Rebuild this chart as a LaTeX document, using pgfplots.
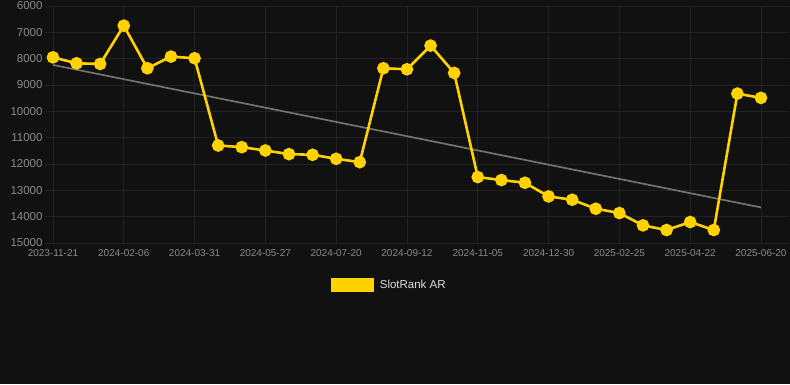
\documentclass[border=0pt]{standalone}
\usepackage{pgfplots}
\pgfplotsset{compat=1.18}
\usepackage{fontspec}
\setmainfont{Liberation Sans}
\definecolor{bg}{HTML}{111111}
\definecolor{gridc}{HTML}{222222}
\definecolor{ticklab}{HTML}{8A8A8A}
\definecolor{yel}{HTML}{FFD200}
\definecolor{trend}{HTML}{737373}
\definecolor{legtext}{HTML}{DDDDDD}
\pgfplotstableread{
x y
0 7950
1 8175
2 8200
3 6746
4 8364
5 7921
6 7984
7 11297
8 11360
9 11487
10 11625
11 11650
12 11802
13 11930
14 8364
15 8402
16 7503
17 8541
18 12496
19 12610
20 12712
21 13231
22 13357
23 13698
24 13862
25 14330
26 14507
27 14204
28 14507
29 9326
30 9489
}\datatable
\pgfplotstableread{
x y
0 8237
30 13649
}\trendtable
\begin{document}
\begin{tikzpicture}
\fill[bg] (0,0) rectangle (790pt,384pt);
\begin{axis}[
  at={(44.7pt,141pt)}, anchor=south west,
  scale only axis, width=744.6pt, height=237pt,
  xmin=-0.35, xmax=31.2,
  ymin=6000, ymax=15000, y dir=reverse,
  axis line style={draw=none},
  major tick length=0pt,
  grid=major, grid style={gridc, line width=0.8pt},
  xtick={0,3,...,30},
  xticklabels={2023-11-21,2024-02-06,2024-03-31,2024-05-27,2024-07-20,2024-09-12,2024-11-05,2024-12-30,2025-02-25,2025-04-22,2025-06-20},
  ytick={6000,7000,...,15000},
  scaled y ticks=false,
  /pgf/number format/1000 sep={},
  /pgf/number format/assume math mode=true,
  xticklabel style={font=\fontsize{10}{12}\selectfont, text=ticklab, yshift=-3pt},
  yticklabel style={font=\fontsize{11.5}{13}\selectfont, text=ticklab, anchor=east, inner sep=0pt, xshift=-2pt},
  legend style={at={(0.463,-0.177)}, anchor=center, draw=none, fill=none, text=legtext, font=\fontsize{11.5}{13}\selectfont, legend cell align=left, /tikz/every odd column/.append style={column sep=4pt}},
  legend image code/.code={\fill[yel] (0pt,-5.5pt) rectangle (40pt,5.5pt);},
  clip=false,
]
\addplot[trend, line width=1.7pt, forget plot] table[x=x,y=y] {\trendtable};
\addplot[yel, line width=2.6pt, mark=*, mark size=5pt, mark options={solid, fill=yel, draw=none}] table[x=x,y=y] {\datatable};
\addlegendentry{SlotRank AR}
\end{axis}
\pgfresetboundingbox
\useasboundingbox (0,0) rectangle (790pt,384pt);
\end{tikzpicture}
\end{document}
